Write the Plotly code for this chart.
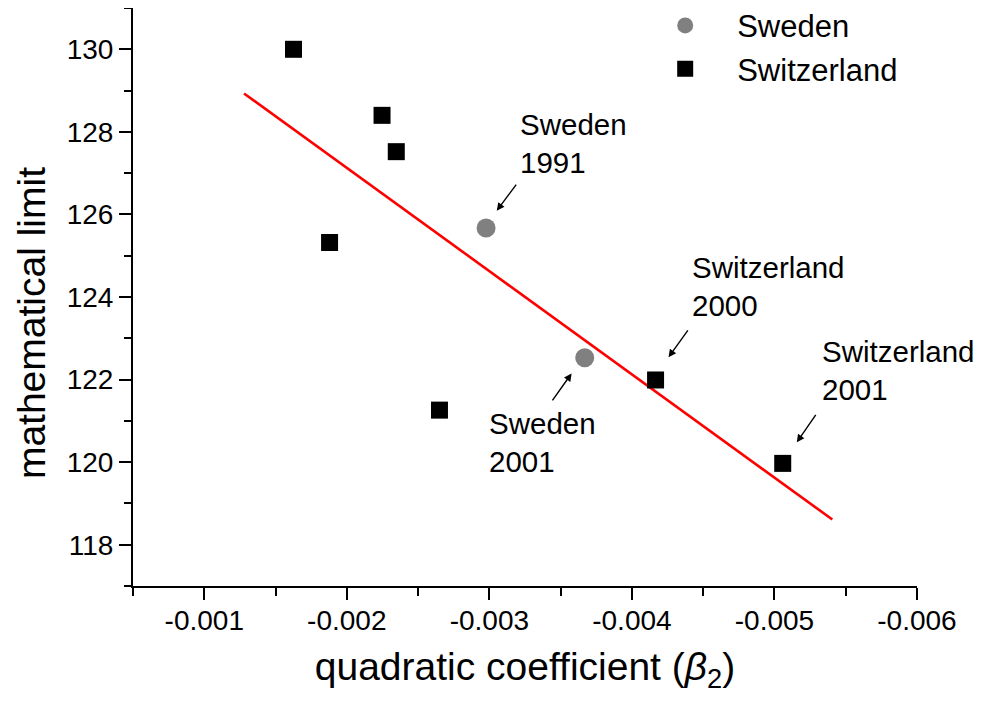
import plotly.graph_objects as go

# ---- data ----
sweden_x = [-0.002977, -0.003669]
sweden_y = [125.67, 122.53]

swiss_x = [-0.001626, -0.002247, -0.002347, -0.001879, -0.002650, -0.004166, -0.005058]
swiss_y = [130.00, 128.40, 127.52, 125.32, 121.26, 121.99, 119.97]

fit_x = [-0.001279, -0.005406]
fit_y = [128.93, 118.61]

x_tick_vals = [-0.001, -0.002, -0.003, -0.004, -0.005, -0.006]
x_tick_text = ["-0.001", "-0.002", "-0.003", "-0.004", "-0.005", "-0.006"]
y_tick_vals = [118, 120, 122, 124, 126, 128, 130]

labels = ["Sweden<br>1991", "Switzerland<br>2000", "Switzerland<br>2001", "Sweden<br>2001"]
label_x = [-0.003198, -0.004407, -0.005318, -0.002980]
label_y = [127.71, 124.26, 122.21, 120.47]
arrow_tail_x = [-0.003196, -0.004400, -0.005297, -0.003435]
arrow_tail_y = [126.76, 123.23, 121.18, 121.46]
arrow_head_x = [-0.003052, -0.004257, -0.005157, -0.003577]
arrow_head_y = [126.09, 122.54, 120.48, 122.15]

FONT = "Liberation Sans, Arial, Helvetica, sans-serif"

fig = go.Figure()
fig.add_trace(go.Scatter(x=fit_x, y=fit_y, mode="lines",
                         line=dict(color="#ff0000", width=2.6), showlegend=False,
                         hoverinfo="skip"))
fig.add_trace(go.Scatter(x=sweden_x, y=sweden_y, mode="markers", name="Sweden",
                         marker=dict(symbol="circle", size=19, color="#808080")))
fig.add_trace(go.Scatter(x=swiss_x, y=swiss_y, mode="markers", name="Switzerland",
                         marker=dict(symbol="square", size=17, color="#000000")))

annotations = []
for t, lx, ly in zip(labels, label_x, label_y):
    annotations.append(dict(x=lx, y=ly, xref="x", yref="y", text=t, showarrow=False,
                            xanchor="left", yanchor="middle", align="left",
                            font=dict(family=FONT, size=29.5, color="#000")))
for tx, ty, hx, hy in zip(arrow_tail_x, arrow_tail_y, arrow_head_x, arrow_head_y):
    annotations.append(dict(x=hx, y=hy, ax=tx, ay=ty, xref="x", yref="y",
                            axref="x", ayref="y", text="", showarrow=True,
                            arrowhead=2, arrowsize=1.1, arrowwidth=1.4,
                            arrowcolor="#000", standoff=0, startstandoff=0))

# y-axis title (sits slightly below the axis centre in the reference)
annotations.append(dict(text="mathematical limit", xref="paper", yref="paper",
                        x=-0.130, y=0.455, xanchor="center", yanchor="middle",
                        textangle=-90, showarrow=False,
                        font=dict(family=FONT, size=39, color="#000")))

# page body has an 8px margin: figure is 976x696 placed at (8, 8)
fig.update_layout(
    width=976, height=696,
    margin=dict(l=125, r=67, t=0, b=118, autoexpand=False),
    paper_bgcolor="white", plot_bgcolor="white",
    font=dict(family=FONT, color="#000"),
    showlegend=True,
    legend=dict(x=0.638, y=1.016, xanchor="left", yanchor="top",
                font=dict(family=FONT, size=31, color="#000"),
                itemwidth=94, bgcolor="rgba(0,0,0,0)", tracegroupgap=0),
    annotations=annotations,
)

fig.update_xaxes(
    range=[-0.0005, -0.006], autorange=False,
    showline=True, linecolor="#000", linewidth=2, mirror=False,
    showgrid=False, zeroline=False,
    tickmode="array", tickvals=x_tick_vals, ticktext=x_tick_text,
    ticks="outside", ticklen=12, tickwidth=2, tickcolor="#000",
    tickfont=dict(family=FONT, size=28, color="#000"),
    ticklabelstandoff=-4,
    minor=dict(dtick=0.0005, tick0=0, ticks="outside", ticklen=8, tickwidth=2,
               tickcolor="#000", showgrid=False),
    title=dict(text="quadratic coefficient (<i>β</i><sub>2</sub>)",
               font=dict(family=FONT, size=39, color="#000"), standoff=18),
    automargin=False,
)
fig.update_yaxes(
    range=[117, 131], autorange=False,
    showline=True, linecolor="#000", linewidth=2, mirror=False,
    showgrid=False, zeroline=False,
    tickmode="array", tickvals=y_tick_vals,
    ticks="outside", ticklen=12, tickwidth=2, tickcolor="#000",
    tickfont=dict(family=FONT, size=28, color="#000"),
    minor=dict(dtick=1, tick0=0, ticks="outside", ticklen=7, tickwidth=2,
               tickcolor="#000", showgrid=False),
    automargin=False,
)

fig.write_html("out.html")
